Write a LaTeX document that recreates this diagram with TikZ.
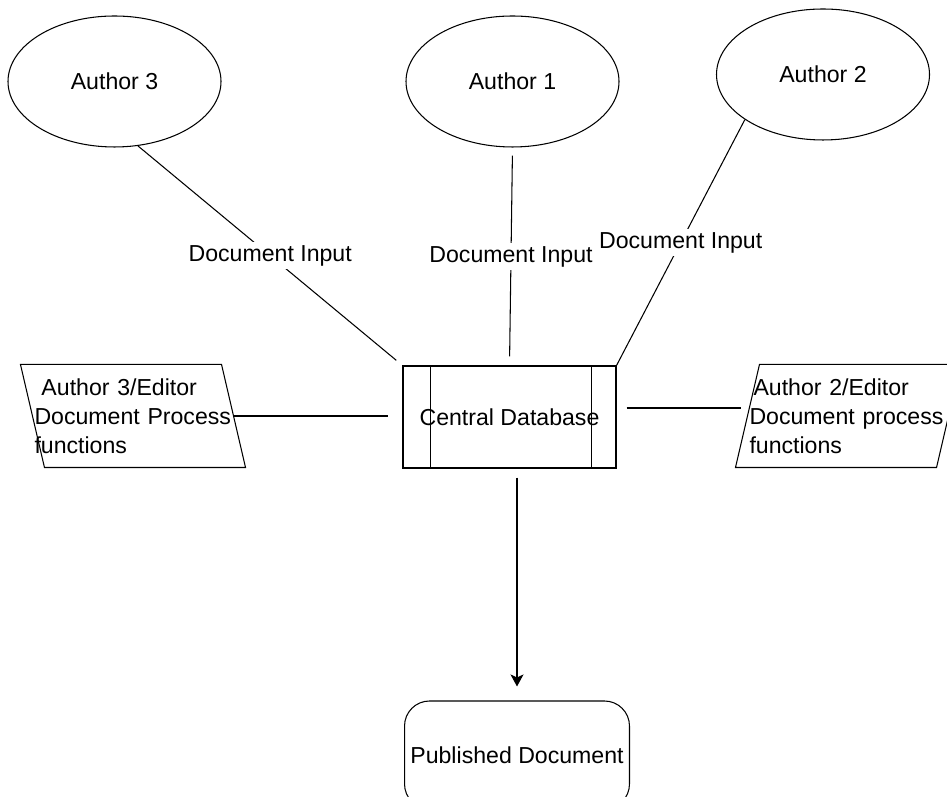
\documentclass[tikz,border=0pt]{standalone}
\usepackage{fontspec}
\setmainfont{Liberation Sans}
\usetikzlibrary{shapes.geometric,arrows.meta}

\tikzset{
    author/.style={draw, ellipse, minimum width=4.26cm, minimum height=2.62cm, inner sep=0pt},
    database/.style={draw, rectangle, minimum width=4.26cm, minimum height=2.04cm},
    process/.style={rectangle, minimum width=4cm, minimum height=2.04cm, text width=3.94cm, align=left, inner sep=0.03cm},
    published/.style={draw, rounded corners=0.5cm, minimum width=4.2cm, minimum height=2.16cm},
    flowlabel/.style={fill=white, inner sep=0.06cm},
}

\begin{document}
\begin{tikzpicture}[font=\fontsize{13.15}{16.5}\selectfont, line width=0.6pt]
    \useasboundingbox (0,0) rectangle (18.94,15.94);

    % authors
    \node[author] (a3) at (2.29,14.31) {Author 3};
    \node[author] (a1) at (10.25,14.31) {Author 1};
    \node[author] (a2) at (16.46,14.45) {Author 2};

    % central database
    \node[database] (db) at (10.19,7.6) {Central Database};
    \draw ([xshift=0.56cm]db.north west) -- ([xshift=0.56cm]db.south west);
    \draw ([xshift=-0.5cm]db.north east) -- ([xshift=-0.5cm]db.south east);

    % editors
    \node[process] (lp) at (2.66,7.62) {\hspace{0.14cm}Author 3/Editor\\Document Process\\functions};
    \draw ([xshift=-0.24cm]lp.north west) -- ([xshift=-0.24cm]lp.north east) -- ([xshift=0.24cm]lp.south east) -- ([xshift=0.24cm]lp.south west) -- cycle;

    \node[process] (rp) at (16.96,7.62) {\hspace{0.08cm}Author 2/Editor\\Document process\\functions};
    \draw ([xshift=0.24cm]rp.north west) -- ([xshift=0.24cm]rp.north east) -- ([xshift=-0.24cm]rp.south east) -- ([xshift=-0.24cm]rp.south west) -- cycle;

    \node[published] (pub) at (10.34,0.84) {Published Document};

    % inputs
    \draw[shorten >=0.16cm] (a3.290) -- node[flowlabel] {Document Input} (db.north west);
    \draw[shorten <=0.16cm, shorten >=0.18cm] (a1.south) -- node[flowlabel] {Document Input} (db.north);
    \draw (a2.210) -- node[flowlabel] {Document Input} (db.north east);

    \draw[shorten >=0.28cm] (lp.east) -- (lp.east -| db.west);
    \draw[shorten <=0.2cm, shorten >=0.12cm] ([yshift=0.18cm]db.east) -- ([yshift=0.18cm]db.east -| rp.west);

    \draw[-{Stealth[length=0.24cm, width=0.26cm, inset=0.06cm]}, shorten <=0.18cm, shorten >=0.28cm] (db.south -| pub.north) -- (pub.north);
\end{tikzpicture}
\end{document}
